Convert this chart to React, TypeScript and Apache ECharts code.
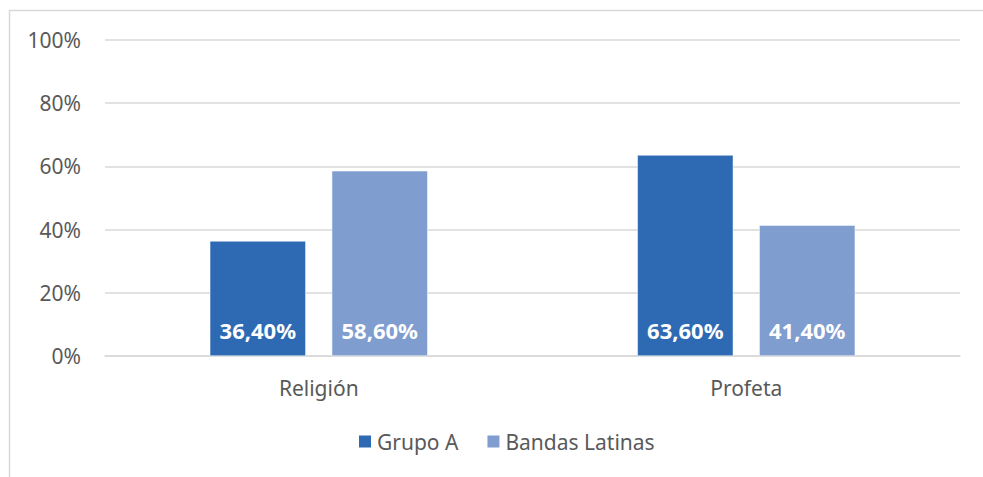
import React, { useEffect, useRef } from "react";
import * as echarts from "echarts";

const categories = ["Religión", "Profeta"];
const grupoA = [36.4, 63.6];
const bandasLatinas = [58.6, 41.4];
const seriesNames = ["Grupo A", "Bandas Latinas"];
const yTicks = [0, 20, 40, 60, 80, 100];

const FONT = "'Noto Sans', 'Open Sans', sans-serif";

export default function App() {
  const ref = useRef<HTMLDivElement>(null);
  useEffect(() => {
    document.body.style.margin = "0";
    const chart = echarts.init(ref.current!, null, { renderer: "svg" });
    const label = {
      show: true,
      position: "insideBottom",
      distance: 15,
      color: "#ffffff",
      fontWeight: "bold",
      fontSize: 22,
      fontFamily: FONT,
      formatter: (p: any) => p.value.toFixed(2).replace(".", ",") + "%",
    };
    chart.setOption({
      animation: false,
      backgroundColor: "#ffffff",
      graphic: [
        {
          type: "rect",
          shape: { x: 9.5, y: 10.5, width: 1000, height: 500 },
          style: { fill: "none", stroke: "#d9d9d9", lineWidth: 1.5 },
          silent: true,
        },
      ],
      grid: { left: 105, right: 23, top: 40, bottom: 121 },
      legend: {
        data: seriesNames,
        bottom: 20,
        left: 352,
        itemWidth: 14,
        itemHeight: 14,
        itemGap: 27,
        icon: "rect",
        textStyle: { color: "#595959", fontSize: 21, fontFamily: FONT },
      },
      xAxis: {
        type: "category",
        data: categories,
        axisLine: { lineStyle: { color: "#d9d9d9", width: 1.5 } },
        axisTick: { show: false },
        axisLabel: { color: "#595959", fontSize: 21, fontFamily: FONT, margin: 21 },
      },
      yAxis: {
        type: "value",
        min: yTicks[0],
        max: yTicks[yTicks.length - 1],
        interval: 20,
        axisLine: { show: false },
        axisTick: { show: false },
        splitLine: { lineStyle: { color: "#d9d9d9", width: 1.5 } },
        axisLabel: {
          color: "#595959",
          fontSize: 21,
          fontFamily: FONT,
          margin: 24,
          formatter: (v: number) => v + "%",
        },
      },
      series: [
        {
          name: seriesNames[0],
          type: "bar",
          data: grupoA,
          barWidth: 96,
          barGap: "27%",
          itemStyle: { color: "#2E6AB4", borderColor: "#ffffff", borderWidth: 0.5 },
          label,
        },
        {
          name: seriesNames[1],
          type: "bar",
          data: bandasLatinas,
          barWidth: 96,
          itemStyle: { color: "#7F9DCF", borderColor: "#ffffff", borderWidth: 0.5 },
          label,
        },
      ],
    });
    return () => chart.dispose();
  }, []);
  return <div ref={ref} style={{ width: 983, height: 477 }} />;
}
